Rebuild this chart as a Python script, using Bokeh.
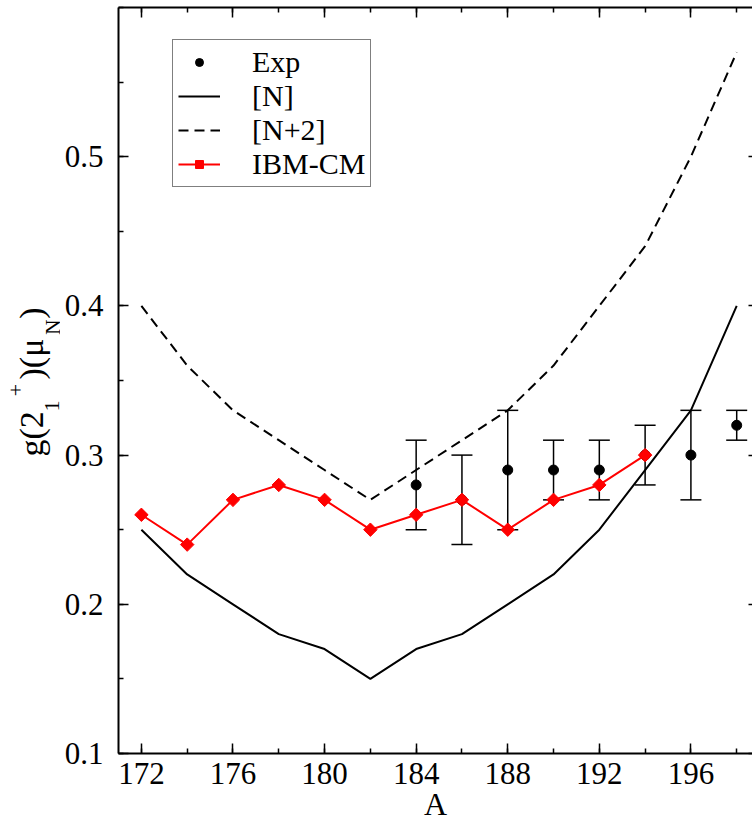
import math
from bokeh.plotting import figure
from bokeh.layouts import row
from bokeh.models import (Range1d, FixedTicker, LinearAxis, Legend, LegendItem,
                          Whisker, TeeHead, ColumnDataSource, CustomLabelingPolicy)
from bokeh.core.properties import value
from bokeh.embed import file_html
from bokeh.resources import INLINE

# ---------------- data ----------------
A_theory = [172, 174, 176, 178, 180, 182, 184, 186, 188, 190, 192, 194, 196, 198]
g_N = [0.25, 0.22, 0.20, 0.18, 0.17, 0.15, 0.17, 0.18, 0.20, 0.22, 0.25, 0.29, 0.33, 0.40]
g_N2 = [0.40, 0.36, 0.33, 0.31, 0.29, 0.27, 0.29, 0.31, 0.33, 0.36, 0.40, 0.44, 0.50, 0.57]

A_ibm = [172, 174, 176, 178, 180, 182, 184, 186, 188, 190, 192, 194]
g_ibm = [0.26, 0.24, 0.27, 0.28, 0.27, 0.25, 0.26, 0.27, 0.25, 0.27, 0.28, 0.30]

A_exp = [184, 186, 188, 190, 192, 194, 196, 198]
g_exp = [0.28, 0.27, 0.29, 0.29, 0.29, 0.30, 0.30, 0.32]
err_exp = [0.03, 0.03, 0.04, 0.02, 0.02, 0.02, 0.03, 0.01]

x_major = [172, 176, 180, 184, 188, 192, 196]
x_minor = [172, 174, 176, 178, 180, 182, 184, 186, 188, 190, 192, 194, 196, 198]
y_major = [0.1, 0.2, 0.3, 0.4, 0.5]
y_minor = [0.1, 0.15, 0.2, 0.25, 0.3, 0.35, 0.4, 0.45, 0.5, 0.55, 0.6]

# y-axis title pieces
ylab_text = ["g(2", "1", "+", ")(μ", "N", ")"]
ylab_size = ["34px", "22px", "22px", "34px", "21px", "34px"]

FONT = "Liberation Serif"
H = 824
LW = 60          # width of the strip holding the y-axis title
MW = 752 - LW    # main figure width
TOP, BOT = 7, 70  # borders above / below the plotting frame

NO_LABELS = CustomLabelingPolicy(code="""
try { indices.clear(); } catch (e) {}
return indices;
""")

p = figure(width=MW, height=H, output_backend="svg", toolbar_location=None,
           x_range=Range1d(171, 198.69), y_range=Range1d(0.1, 0.6),
           min_border_left=118 - LW, min_border_right=0, min_border_top=TOP,
           min_border_bottom=BOT, x_axis_location=None, y_axis_location=None)
p.xgrid.visible = False
p.ygrid.visible = False
p.outline_line_color = None
p.background_fill_color = "white"


def style_axis(ax, labels=True, line=True):
    ax.axis_line_width = 2
    ax.axis_line_color = "black" if line else None
    ax.major_tick_in = 10
    ax.major_tick_out = 0
    ax.minor_tick_in = 5
    ax.minor_tick_out = 0
    ax.major_tick_line_width = 1.5
    ax.minor_tick_line_width = 1.5
    ax.major_label_text_font = FONT
    ax.major_label_text_color = "black"
    if labels:
        ax.major_label_text_font_size = "31px"
    else:
        ax.major_label_text_font_size = "0px"
        ax.major_label_standoff = 0
        ax.major_label_policy = NO_LABELS


xb = LinearAxis(ticker=FixedTicker(ticks=x_major, minor_ticks=x_minor))
style_axis(xb)
xb.major_label_standoff = 9
xb.axis_label = "A"
xb.axis_label_text_font = FONT
xb.axis_label_text_font_size = "32px"
xb.axis_label_text_font_style = "normal"
xb.axis_label_text_color = "black"
xb.axis_label_standoff = -1
p.add_layout(xb, "below")

xt = LinearAxis(ticker=FixedTicker(ticks=x_major, minor_ticks=x_minor))
style_axis(xt, labels=False)
p.add_layout(xt, "above")

yl = LinearAxis(ticker=FixedTicker(ticks=y_major, minor_ticks=y_minor))
style_axis(yl)
yl.major_label_standoff = 15
p.add_layout(yl, "left")

yr = LinearAxis(ticker=FixedTicker(ticks=y_major, minor_ticks=[]))
style_axis(yr, labels=False, line=False)
yr.major_tick_in = 4
p.add_layout(yr, "right")

# error bars
esrc = ColumnDataSource(dict(x=A_exp, y=g_exp,
                             lo=[g - e for g, e in zip(g_exp, err_exp)],
                             hi=[g + e for g, e in zip(g_exp, err_exp)]))
wh = Whisker(source=esrc, base="x", upper="hi", lower="lo", dimension="height",
             line_color="black", line_width=1.5, level="underlay",
             upper_head=TeeHead(size=21, line_width=1.5, line_color="black"),
             lower_head=TeeHead(size=21, line_width=1.5, line_color="black"))
p.add_layout(wh)

r_exp = p.scatter("x", "y", source=esrc, size=10, color="black", marker="circle")
r_n = p.line(A_theory, g_N, line_color="black", line_width=2)
r_n2 = p.line(A_theory, g_N2, line_color="black", line_width=2, line_dash="10 6")
r_ibm_l = p.line(A_ibm, g_ibm, line_color="red", line_width=2)
r_ibm_m = p.scatter(A_ibm, g_ibm, marker="square", angle=math.pi / 4, size=9.5,
                    color="red")

legend = Legend(items=[LegendItem(label="Exp", renderers=[r_exp]),
                       LegendItem(label="[N]", renderers=[r_n]),
                       LegendItem(label="[N+2]", renderers=[r_n2]),
                       LegendItem(label="IBM-CM", renderers=[r_ibm_l, r_ibm_m])],
                location=(54, 566), label_text_font=FONT, label_text_font_size="30px",
                label_text_color="black",
                label_standoff=32, glyph_width=42, glyph_height=20, padding=5,
                spacing=0, label_height=30, border_line_color="black",
                border_line_width=1.5, background_fill_alpha=1.0)
p.add_layout(legend, "center")

# ---------------- y-axis title strip ----------------
# the strip's frame is aligned with the main frame; its y coordinate is
# "pixels from the bottom of the page", x is pixels from its left edge
ylab_x = [31, 51, 15, 31, 52, 31]
ylab_y = [H - 434, H - 406, H - 390, H - 359, H - 327, H - 313]

lab = figure(width=LW, height=H, output_backend="svg", toolbar_location=None,
             x_range=Range1d(0, LW), y_range=Range1d(BOT, H - TOP),
             min_border_left=0, min_border_right=0, min_border_top=TOP,
             min_border_bottom=BOT, x_axis_location=None, y_axis_location=None)
lab.xgrid.visible = False
lab.ygrid.visible = False
lab.outline_line_color = None
for t, s, xx, yy in zip(ylab_text, ylab_size, ylab_x, ylab_y):
    lab.text(x=[xx], y=[yy], text=[t], angle=math.pi / 2,
             text_font=value(FONT), text_font_size=s, text_color="black",
             text_align="center", text_baseline="middle")

layout = row(lab, p)
open("out.html", "w").write(file_html(layout, INLINE))
